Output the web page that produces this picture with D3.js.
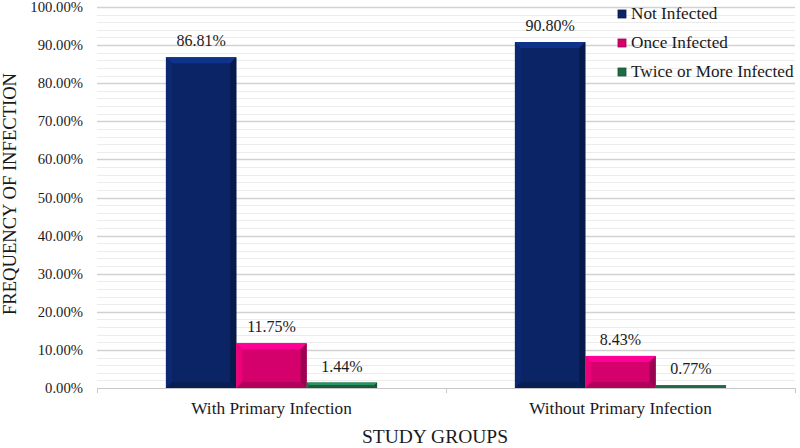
<!DOCTYPE html>
<html>
<head>
<style>
  body { margin: 0; background: #fff; }
  text { font-family: "Liberation Serif", "Times New Roman", serif; fill: #1a1a1a; }
</style>
<script src="https://d3js.org/d3.v7.min.js"></script>
</head>
<body>
<svg id="chart" width="800" height="448"></svg>
<script>
// data
var groups = ["With Primary Infection", "Without Primary Infection"];
var seriesNames = ["Not Infected", "Once Infected", "Twice or More Infected"];
var notInfected = [86.81, 90.80];
var onceInfected = [11.75, 8.43];
var twiceInfected = [1.44, 0.77];
var yTicks = [0, 10, 20, 30, 40, 50, 60, 70, 80, 90, 100];
var colors = ["#0b2465", "#d4016d", "#1e6b45"];

var seriesVals = [notInfected, onceInfected, twiceInfected];

var svg = d3.select("#chart");
// plot area (note: "top" is a reserved window prop, so use plot* names)
var plotL = 97, plotR = 795, plotT = 7, plotB = 388;

var x0 = d3.scaleBand().domain(groups).range([plotL, plotR]).paddingInner(0).paddingOuter(0);
var x1 = d3.scaleBand().domain(seriesNames).range([0, x0.bandwidth() * 0.605]);
var y = d3.scaleLinear().domain([0, 100]).range([plotB, plotT]);

// minor gridlines
var minor = d3.range(0, 101, 2).filter(v => v % 10 != 0);
svg.append("g").selectAll("line").data(minor).enter().append("line")
  .attr("x1", plotL).attr("x2", plotR)
  .attr("y1", d => Math.round(y(d)) + 0.5).attr("y2", d => Math.round(y(d)) + 0.5)
  .attr("stroke", "#ececec").attr("stroke-width", 1);

// major gridlines
svg.append("g").selectAll("line").data(yTicks.slice(1)).enter().append("line")
  .attr("x1", plotL).attr("x2", plotR)
  .attr("y1", d => Math.round(y(d)) + 0.5).attr("y2", d => Math.round(y(d)) + 0.5)
  .attr("stroke", "#d2d2d2").attr("stroke-width", 1.3);

// y axis labels
svg.append("g").selectAll("text").data(yTicks).enter().append("text")
  .attr("x", plotL - 14).attr("y", d => y(d) + 5)
  .attr("text-anchor", "end").attr("font-size", 14.7)
  .text(d => d.toFixed(2) + "%");

// x axis line and ticks
svg.append("line").attr("x1", plotL).attr("x2", plotR)
  .attr("y1", plotB + 0.5).attr("y2", plotB + 0.5)
  .attr("stroke", "#c8c8c8").attr("stroke-width", 1);
var tickXs = [plotL].concat(groups.map(g => x0(g) + x0.bandwidth()));
svg.append("g").selectAll("line").data(tickXs).enter().append("line")
  .attr("x1", d => Math.round(d) + 0.5).attr("x2", d => Math.round(d) + 0.5)
  .attr("y1", plotB).attr("y2", plotB + 5)
  .attr("stroke", "#c8c8c8");

// bars with bevel
var off = (x0.bandwidth() - x1.range()[1]) / 2;
var bars = [];
groups.forEach(function(g, gi) {
  seriesNames.forEach(function(s, si) {
    bars.push({ group: g, series: s, si: si, value: seriesVals[si][gi] });
  });
});

var barG = svg.append("g");
bars.forEach(function(d) {
  var bx = x0(d.group) + off + x1(d.series);
  var bw = x1.bandwidth();
  var by = y(d.value);
  var bh = plotB - by;
  var c = d3.color(colors[d.si]);
  var g = barG.append("g");
  g.append("rect").attr("x", bx).attr("y", by).attr("width", bw).attr("height", bh)
    .attr("fill", colors[d.si]);
  var b = Math.min(6, bh / 2);
  if (bh > 3) {
    // top bevel
    g.append("polygon")
      .attr("points", [[bx, by], [bx + bw, by], [bx + bw - b, by + b], [bx + b, by + b]].join(" "))
      .attr("fill", c.brighter(0.9));
    // left bevel
    g.append("polygon")
      .attr("points", [[bx, by], [bx + b, by + b], [bx + b, plotB - b], [bx, plotB]].join(" "))
      .attr("fill", c.brighter(0.3));
    // right bevel
    g.append("polygon")
      .attr("points", [[bx + bw, by], [bx + bw, plotB], [bx + bw - b, plotB - b], [bx + bw - b, by + b]].join(" "))
      .attr("fill", c.darker(0.9));
    // bottom bevel
    g.append("polygon")
      .attr("points", [[bx, plotB], [bx + b, plotB - b], [bx + bw - b, plotB - b], [bx + bw, plotB]].join(" "))
      .attr("fill", c.darker(0.5));
  }
  g.append("text")
    .attr("x", bx + bw / 2).attr("y", by - 11)
    .attr("text-anchor", "middle").attr("font-size", 16)
    .text(d.value.toFixed(2) + "%");
});

// category labels
svg.append("g").selectAll("text").data(groups).enter().append("text")
  .attr("x", d => x0(d) + x0.bandwidth() / 2).attr("y", plotB + 26)
  .attr("text-anchor", "middle").attr("font-size", 17.3)
  .text(d => d);

// axis titles
svg.append("text").attr("x", 435).attr("y", 443)
  .attr("text-anchor", "middle").attr("font-size", 19.5)
  .text("STUDY GROUPS");
svg.append("text")
  .attr("transform", "translate(16,194) rotate(-90)")
  .attr("text-anchor", "middle").attr("font-size", 18.6)
  .text("FREQUENCY OF INFECTION");

// legend
var legend = svg.append("g").attr("transform", "translate(618,9)");
seriesNames.forEach(function(s, i) {
  var row = legend.append("g").attr("transform", "translate(0," + (i * 29) + ")");
  row.append("rect").attr("x", 0).attr("y", 1).attr("width", 8).attr("height", 8)
    .attr("fill", colors[i]).attr("stroke", d3.color(colors[i]).darker(0.8)).attr("stroke-width", 0.8);
  row.append("text").attr("x", 13).attr("y", 10).attr("font-size", 17.2).text(s);
});
</script>
</body>
</html>
